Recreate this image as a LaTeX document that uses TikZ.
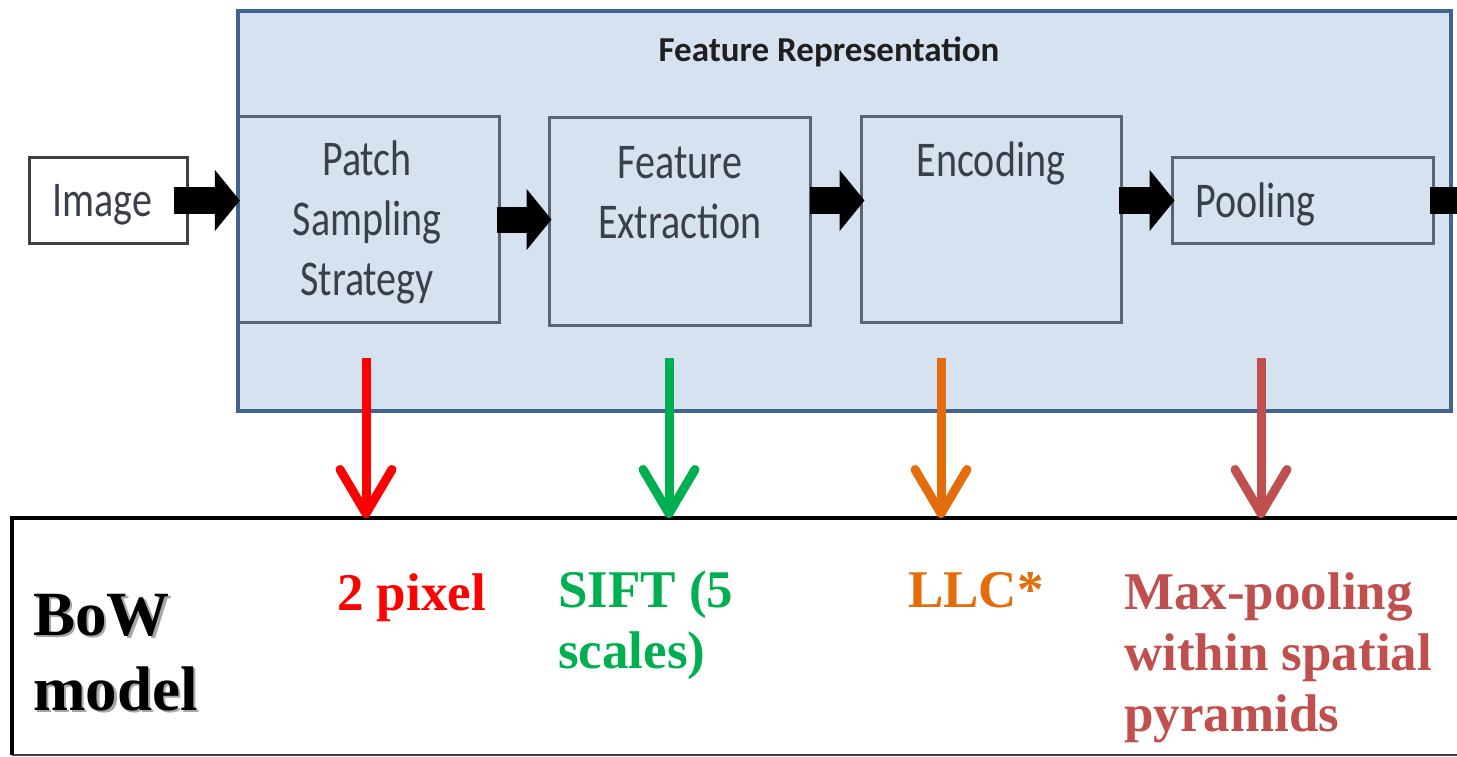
\documentclass[tikz,border=0pt]{standalone}
\usepackage{fontspec}
\setmainfont{Liberation Serif}
\newfontfamily\stagefont[FakeStretch=0.8]{Carlito}
\newfontfamily\titlefont{Carlito}
\usetikzlibrary{arrows.meta,calc}

\definecolor{panelfill}{HTML}{D6E2F0}
\definecolor{paneledge}{HTML}{41638F}
\definecolor{stageedge}{HTML}{5A6371}
\definecolor{stagetext}{HTML}{3A3F4A}
\definecolor{boxedge}{HTML}{404040}
\definecolor{cred}{HTML}{FF0000}
\definecolor{cgreen}{HTML}{00B050}
\definecolor{corange}{HTML}{E46C0A}
\definecolor{cbrown}{HTML}{C0504D}

\tikzset{
  stagebox/.style={draw=stageedge, line width=3pt, fill=panelfill, inner sep=0pt},
  stagelabel/.style={font=\stagefont\fontsize{50}{60}\selectfont, text=stagetext, inner sep=0pt, align=center},
  blockarrow/.style={line width=26pt, -{Triangle[length=25pt,width=60pt]}},
  choice/.style={line width=9pt, -{Straight Barb[length=44pt,width=52pt,round]}},
  notelabel/.style={font=\bfseries\fontsize{53}{61}\selectfont, inner sep=0pt, align=left, anchor=base west},
}

\begin{document}
\begin{tikzpicture}[x=1pt,y=-1pt]
\clip (0,0) rectangle (1457,757);
\fill[white] (0,0) rectangle (1457,757);

% feature representation panel
\node[fill=panelfill, minimum width=1213pt, minimum height=400pt, inner sep=0pt] (panel) at (844.5,211) {};
\node[font=\titlefont\bfseries\fontsize{35}{40}\selectfont, text=black!88, anchor=base, inner sep=0pt] (title) at (829,62) {Feature Representation};

% input image
\node[draw=boxedge, line width=3pt, fill=white, minimum width=158pt, minimum height=85pt, inner sep=0pt] (img) at (108,200.5) {};
\node[stagelabel, anchor=base] (imgtxt) at (102.5,216) {Image};

% processing stages
\node[stagebox, minimum width=261pt, minimum height=205pt] (patch) at (368.5,219.5) {};
\node[stagebox, minimum width=261pt, minimum height=207pt] (feat) at (679.5,221.5) {};
\node[stagebox, minimum width=260pt, minimum height=205pt] (enc) at (991,219.5) {};
\node[stagebox, minimum width=261pt, minimum height=85pt] (pool) at (1302.5,200.5) {};

% (base anchor of a multi-line label is its last line)
\node[stagelabel, anchor=base] (patchtxt) at (367,295) {Patch\\Sampling\\Strategy};
\node[stagelabel, anchor=base] (feattxt) at (680,238) {Feature\\Extraction};
\node[stagelabel, anchor=base] (enctxt) at (991,177) {Encoding};
\node[stagelabel, anchor=base west] (pooltxt) at (1195,217) {Pooling};

% panel border on top of the stage boxes
\draw[paneledge, line width=4pt] (panel.north west) rectangle (panel.south east);

% data flow
\coordinate (exit) at (1500,200.5);
\draw[blockarrow] ($(img.east)+(-15,0)$) -- ($(img.east -| panel.west)+(2,0)$);
\draw[blockarrow] ($(patch.east)+(-4,0)$) -- ($(patch.east -| feat.west)+(4,0)$);
\draw[blockarrow] ($(feat.east |- img.east)+(-2,0)$) -- ($(enc.west |- img.east)+(5,0)$);
\draw[blockarrow] ($(enc.east |- pool.west)+(-4,0)$) -- ($(pool.west)+(4,0)$);
\draw[line width=26pt] ($(pool.east)+(-5,0)$) -- (exit);

% model box
\node[minimum width=1470pt, minimum height=237pt, inner sep=0pt, anchor=north west] (bow) at (12,518) {};
\draw[black!75, line width=2pt] (bow.south west) -- (bow.south east);
\draw[black, line width=4pt] (bow.south west) -- (bow.north west) -- (bow.north east);

% choices for each stage
\coordinate (r0) at (366,358);
\coordinate (g0) at (669,358);
\coordinate (o0) at (941,358);
\coordinate (b0) at (1261,358);
\draw[choice, cred] (r0) -- (r0 |- bow.north);
\draw[choice, cgreen] (g0) -- (g0 |- bow.north);
\draw[choice, corange] (o0) -- (o0 |- bow.north);
\draw[choice, cbrown] (b0) -- (b0 |- bow.north);

\node[font=\bfseries\fontsize{63}{75}\selectfont, text=black!35, inner sep=0pt, align=left, anchor=base west] (bowshadow) at (35.5,712.5) {BoW\\model};
\node[font=\bfseries\fontsize{63}{75}\selectfont, text=black, inner sep=0pt, align=left, anchor=base west] (bowtxt) at (33,710) {BoW\\model};

\node[notelabel, text=cred] (ptxt) at (337,610) {2 pixel};
\node[notelabel, text=cgreen] (stxt) at (558,668) {SIFT (5\\scales)};
\node[notelabel, text=corange] (ltxt) at (908,607) {LLC*};
\node[notelabel, text=cbrown] (mtxt) at (1124,731) {Max-pooling\\within spatial\\pyramids};
\end{tikzpicture}
\end{document}
